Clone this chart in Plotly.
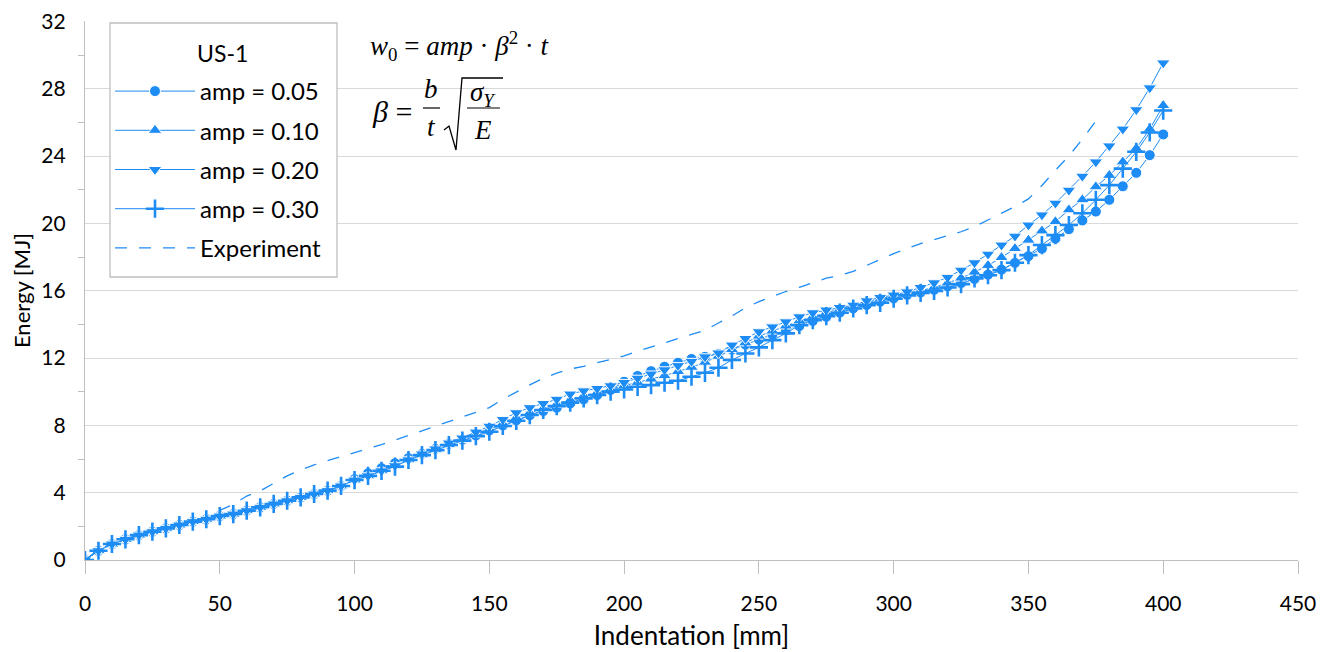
import plotly.graph_objects as go

# ---------------- data ----------------
indent = [0, 5, 10, 15, 20, 25, 30, 35, 40, 45, 50, 55, 60, 65, 70, 75, 80, 85, 90, 95,
          100, 105, 110, 115, 120, 125, 130, 135, 140, 145, 150, 155, 160, 165, 170, 175,
          180, 185, 190, 195, 200, 205, 210, 215, 220, 225, 230, 235, 240, 245, 250, 255,
          260, 265, 270, 275, 280, 285, 290, 295, 300, 305, 310, 315, 320, 325, 330, 335,
          340, 345, 350, 355, 360, 365, 370, 375, 380, 385, 390, 395, 400]

common_start = [0, 0.55, 0.95, 1.23, 1.48, 1.68, 1.88, 2.08, 2.28, 2.42, 2.61, 2.73, 2.93,
                3.13, 3.33, 3.52, 3.72, 3.92, 4.12, 4.4]

amp005 = common_start + [
    4.8, 5.15, 5.45, 5.75, 6.05, 6.3, 6.6, 6.9, 7.15, 7.4, 7.7, 8.0, 8.3, 8.6, 8.85, 9.05,
    9.3, 9.55, 9.8, 10.1, 10.59, 10.93, 11.22, 11.48, 11.72, 11.94, 12.07, 12.25, 12.5, 12.8,
    13.1, 13.4, 13.65, 13.9, 14.2, 14.45, 14.7, 14.95, 15.15, 15.35, 15.55, 15.75, 15.9,
    16.05, 16.25, 16.45, 16.7, 16.95, 17.25, 17.65, 18.05, 18.5, 19.1, 19.65, 20.17, 20.7,
    21.4, 22.2, 23.0, 24.05, 25.28]

amp010 = common_start + [
    4.75, 5.0, 5.3, 5.6, 5.95, 6.25, 6.55, 6.85, 7.15, 7.45, 7.75, 8.1, 8.45, 8.75, 9.0, 9.25,
    9.5, 9.75, 9.95, 10.15, 10.35, 10.55, 10.75, 10.95, 11.2, 11.45, 11.75, 12.1, 12.5, 12.9,
    13.3, 13.6, 13.9, 14.2, 14.45, 14.7, 14.9, 15.1, 15.3, 15.5, 15.7, 15.85, 16.0, 16.2,
    16.45, 16.75, 17.1, 17.5, 17.97, 18.5, 19.0, 19.55, 20.1, 20.8, 21.4, 22.17, 22.85,
    23.65, 24.45, 25.6, 27.0]

amp020 = common_start + [
    4.75, 5.0, 5.3, 5.6, 5.95, 6.3, 6.6, 6.95, 7.25, 7.6, 7.95, 8.35, 8.75, 9.05, 9.3, 9.55,
    9.86, 10.05, 10.19, 10.35, 10.55, 10.8, 11.05, 11.3, 11.55, 11.8, 12.07, 12.3, 12.77,
    13.16, 13.56, 13.85, 14.15, 14.45, 14.69, 14.85, 15.0, 15.14, 15.4, 15.6, 15.74, 15.93,
    16.19, 16.47, 16.79, 17.22, 17.66, 18.17, 18.71, 19.24, 19.9, 20.5, 21.2, 21.97, 22.8,
    23.65, 24.6, 25.6, 26.75, 28.05, 29.53]

amp030 = common_start + [
    4.75, 5.0, 5.3, 5.55, 5.94, 6.23, 6.53, 6.83, 7.09, 7.36, 7.62, 7.96, 8.27, 8.61, 8.91,
    9.14, 9.35, 9.6, 9.8, 10.0, 10.13, 10.29, 10.39, 10.53, 10.65, 10.89, 11.12, 11.42,
    11.88, 12.27, 12.63, 13.06, 13.46, 13.95, 14.25, 14.49, 14.69, 14.94, 15.14, 15.28,
    15.52, 15.72, 15.87, 15.99, 16.19, 16.39, 16.73, 16.92, 17.22, 17.66, 18.11, 18.71,
    19.3, 19.9, 20.6, 21.4, 22.27, 23.25, 24.25, 25.4, 26.7]

exp_x = [0, 5, 10, 20, 30, 40, 45, 50, 55, 60, 65, 70, 75, 80, 85, 90, 95, 100, 105, 110,
         115, 120, 125, 130, 135, 140, 145, 150, 155, 160, 165, 170, 175, 180, 185, 190, 195,
         200, 205, 210, 215, 220, 225, 230, 235, 240, 245, 250, 255, 260, 265, 270, 275, 280,
         285, 290, 295, 300, 305, 310, 315, 320, 325, 330, 335, 340, 345, 350, 355, 360, 365,
         370, 375, 377]
exp_y = [0, 0.6, 0.97, 1.5, 1.9, 2.3, 2.55, 2.95, 3.3, 3.8, 4.1, 4.55, 5.0, 5.35, 5.65, 5.9,
         6.15, 6.4, 6.62, 6.85, 7.12, 7.42, 7.7, 7.93, 8.2, 8.47, 8.75, 9.05, 9.55, 10.0, 10.4,
         10.8, 11.1, 11.35, 11.5, 11.72, 11.93, 12.12, 12.4, 12.65, 12.9, 13.15, 13.38, 13.65,
         14.08, 14.5, 14.98, 15.35, 15.65, 15.95, 16.2, 16.45, 16.74, 16.9, 17.15, 17.5, 17.85,
         18.2, 18.5, 18.8, 19.03, 19.25, 19.5, 19.8, 20.2, 20.6, 21.0, 21.45, 22.25, 23.15,
         24.0, 25.0, 26.1, 26.5]

series_names = ["amp = 0.05", "amp = 0.10", "amp = 0.20", "amp = 0.30"]
series_values = [amp005, amp010, amp020, amp030]
x_ticks = [0, 50, 100, 150, 200, 250, 300, 350, 400, 450]
y_ticks = [0, 4, 8, 12, 16, 20, 24, 28, 32]

# ---------------- styling ----------------
BLUE = "#1E8CF5"
FONT = "Lato"
symbols = [
    dict(symbol="circle", size=11, line=dict(color="white", width=1)),
    dict(symbol="triangle-up", size=12, line=dict(color="white", width=1)),
    dict(symbol="triangle-down", size=12, line=dict(color="white", width=1)),
    dict(symbol="cross-thin", size=13, line=dict(color=BLUE, width=2.6)),
]

fig = go.Figure()
for i, (name, vals) in enumerate(zip(series_names, series_values)):
    fig.add_trace(go.Scatter(
        x=indent, y=vals, name=name, mode="lines+markers",
        line=dict(color=BLUE, width=1),
        marker=dict(color=BLUE, **symbols[i]),
        legendgroup=f"g{i}",
    ))

fig.add_trace(go.Scatter(
    x=exp_x, y=exp_y, name="Experiment", mode="lines",
    line=dict(color=BLUE, width=1.3, dash="12px,12px"),
    legendgroup="g9",
))

# geometry (page body margin is removed by the post script, so page px == figure px)
W, H = 1327, 652
L, T = 85, 21
R, B = 29, 92
PW, PH = W - L - R, H - T - B


def px(x_page):
    return (x_page - L) / PW


def py(y_page):
    return (H - B - y_page) / PH


serif = "Liberation Serif"
ann = []
ann.append(dict(text="<i>w</i><sub>0</sub> = <i>amp</i> · <i>β</i><sup>2</sup> · <i>t</i>",
                x=px(368), y=py(46), xanchor="left", yanchor="middle",
                font=dict(family=serif, size=27, color="black")))
ann.append(dict(text="<i>β</i> =", x=px(370), y=py(111), xanchor="left", yanchor="middle",
                font=dict(family=serif, size=30, color="black")))
ann.append(dict(text="<i>b</i>", x=px(431), y=py(89), xanchor="center", yanchor="middle",
                font=dict(family=serif, size=27, color="black")))
ann.append(dict(text="<i>t</i>", x=px(431), y=py(127), xanchor="center", yanchor="middle",
                font=dict(family=serif, size=27, color="black")))
ann.append(dict(text="<i>σ</i><sub><i>Y</i></sub>", x=px(483), y=py(94), xanchor="center",
                yanchor="middle", font=dict(family=serif, size=27, color="black")))
ann.append(dict(text="<i>E</i>", x=px(483), y=py(130), xanchor="center", yanchor="middle",
                font=dict(family=serif, size=27, color="black")))
# legend heading
ann.append(dict(text="US-1", x=px(222), y=py(53), xanchor="center", yanchor="middle",
                font=dict(family=FONT, size=23, color="black")))
for a in ann:
    a.update(xref="paper", yref="paper", showarrow=False)

shapes = [
    # legend frame
    dict(type="rect", xref="paper", yref="paper", x0=px(110), x1=px(337), y0=py(23),
         y1=py(277), line=dict(color="#bfbfbf", width=1.3), fillcolor="white", layer="above"),
    dict(type="line", xref="paper", yref="paper", x0=px(423), x1=px(440), y0=py(108),
         y1=py(108), line=dict(color="black", width=1.2)),
    dict(type="line", xref="paper", yref="paper", x0=px(467), x1=px(500), y0=py(108),
         y1=py(108), line=dict(color="black", width=1.2)),
    dict(type="path", xref="paper", yref="paper",
         path=(f"M {px(444)} {py(130)} L {px(449)} {py(126)} L {px(456)} {py(150)} "
               f"L {px(462)} {py(78)} L {px(503)} {py(78)}"),
         line=dict(color="black", width=1.3)),
]

fig.update_layout(
    width=W, height=H,
    margin=dict(l=L, r=R, t=T, b=B),
    paper_bgcolor="white", plot_bgcolor="white",
    font=dict(family=FONT, size=21, color="black"),
    annotations=ann, shapes=shapes,
    legend=dict(
        x=px(110), y=py(69), xanchor="left", yanchor="top",
        bgcolor="rgba(0,0,0,0)", borderwidth=0,
        font=dict(family=FONT, size=24, color="black"),
        tracegroupgap=5, itemwidth=80,
    ),
    xaxis=dict(
        range=[0, 450], tickvals=x_ticks, ticks="outside", ticklen=13, tickcolor="#bfbfbf",
        tickwidth=1.2, showgrid=False, showline=True, linecolor="#bfbfbf", linewidth=1.3,
        zeroline=False, ticklabelstandoff=12, automargin=False,
        title=dict(text="Indentation [mm]", font=dict(size=26), standoff=12),
        tickfont=dict(size=21),
    ),
    yaxis=dict(
        range=[0, 32.02], tickvals=y_ticks, ticks="", showgrid=True, gridcolor="#d9d9d9",
        gridwidth=1.3, showline=True, linecolor="#bfbfbf", linewidth=1.3, zeroline=False,
        minor=dict(ticks="outside", tickvals=[2, 6, 10, 14, 18, 22, 26, 30], ticklen=6,
                   tickcolor="#bfbfbf", showgrid=False),
        ticklabelstandoff=14, automargin=False, ticklabeloverflow="allow",
        title=dict(text="Energy [MJ]", font=dict(size=22), standoff=4),
        tickfont=dict(size=21),
    ),
    showlegend=True,
)

fig.write_html("out.html", post_script="document.body.style.margin='0';",
               config={"displayModeBar": False})
